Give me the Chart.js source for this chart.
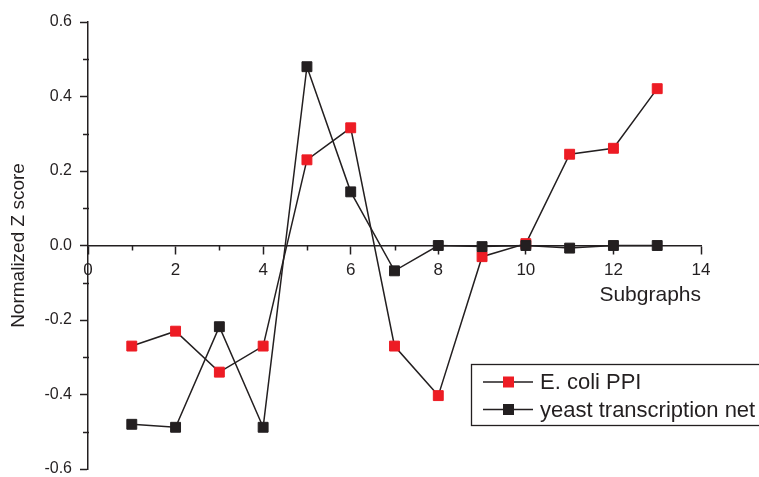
<!DOCTYPE html>
<html>
<head>
<meta charset="utf-8">
<script src="https://cdn.jsdelivr.net/npm/chart.js@4/dist/chart.umd.min.js"></script>
<style>
html,body{margin:0;padding:0;background:#fff;}
#wrap{width:759px;height:477px;position:relative;}
</style>
</head>
<body>
<div id="wrap"><canvas id="c" width="759" height="477"></canvas></div>
<script>
// ---- data ----
const subgraphs = [1,2,3,4,5,6,7,8,9,10,11,12,13];
const ecoliPPI = [-0.27,-0.23,-0.34,-0.27,0.23,0.316,-0.27,-0.403,-0.03,0.005,0.245,0.261,0.421];
const yeastTranscription = [-0.48,-0.488,-0.218,-0.488,0.48,0.144,-0.068,0.0,-0.003,0.0,-0.007,0.0,0.0];
const seriesLabels = ['E. coli PPI','yeast transcription net'];
const xTickMin = 0, xTickMax = 14;
const yTickMin = -0.6, yTickMax = 0.6;

const INK = '#231F20';
const RED = '#ED1C24';
const FONT = '"Liberation Sans", Arial, Helvetica, sans-serif';

function toPoints(xs, ys){ return xs.map((x,i)=>({x:x, y:ys[i]})); }

// minor ticks (short) drawn through the library's scales
const minorTicks = {
  id:'minorTicks',
  beforeDatasetsDraw(chart){
    const ctx = chart.ctx, xs = chart.scales.x, ys = chart.scales.y;
    const axisY = ys.getPixelForValue(0);
    const left = chart.chartArea.left;
    ctx.save();
    ctx.strokeStyle = INK; ctx.lineWidth = 1.5;
    ys.ticks.forEach(t=>{
      if (Math.round(t.value*10) % 2 !== 0){
        const py = Math.round(ys.getPixelForValue(t.value))+0.5;
        ctx.beginPath(); ctx.moveTo(left-5, py); ctx.lineTo(left+1, py); ctx.stroke();
      }
    });
    xs.ticks.forEach(t=>{
      if (Math.round(t.value) % 2 !== 0){
        const px = Math.round(xs.getPixelForValue(t.value))+0.5;
        ctx.beginPath(); ctx.moveTo(px, axisY); ctx.lineTo(px, axisY+5); ctx.stroke();
      }
    });
    ctx.restore();
  }
};

// legend box in the style of the original
const boxLegend = {
  id:'boxLegend',
  afterDraw(chart){
    const ctx = chart.ctx;
    const bx = 471, by = 364, bw = 320, bh = 61;
    ctx.save();
    ctx.fillStyle = '#fff';
    ctx.fillRect(bx, by, bw, bh);
    ctx.strokeStyle = INK; ctx.lineWidth = 1.3;
    ctx.strokeRect(bx+0.5, by+0.5, bw, bh);
    const rows = [382, 409.5];
    chart.data.datasets.forEach((ds,i)=>{
      const cy = rows[i];
      ctx.strokeStyle = INK; ctx.lineWidth = 1.5;
      ctx.beginPath(); ctx.moveTo(483, cy); ctx.lineTo(533, cy); ctx.stroke();
      ctx.fillStyle = ds.pointBackgroundColor;
      ctx.fillRect(503, cy-5.5, 11, 11);
      ctx.fillStyle = INK;
      ctx.font = '22px ' + FONT;
      ctx.textAlign = 'left'; ctx.textBaseline = 'middle';
      ctx.fillText(ds.label, 540, cy+1);
    });
    ctx.restore();
  }
};

new Chart(document.getElementById('c'), {
  type:'line',
  data:{
    datasets:[
      { label: seriesLabels[0], data: toPoints(subgraphs, ecoliPPI),
        borderColor: INK, borderWidth: 1.5, tension: 0,
        pointStyle:'rect', pointRadius: 7, pointHoverRadius: 7,
        pointBackgroundColor: RED, pointBorderColor: RED, pointBorderWidth: 1,
        order: 2 },
      { label: seriesLabels[1], data: toPoints(subgraphs, yeastTranscription),
        borderColor: INK, borderWidth: 1.5, tension: 0,
        pointStyle:'rect', pointRadius: 7, pointHoverRadius: 7,
        pointBackgroundColor: INK, pointBorderColor: INK, pointBorderWidth: 1,
        order: 1 }
    ]
  },
  options:{
    responsive:false,
    animation:false,
    events:[],
    layout:{ padding:{ left:0, right:58, top:22, bottom:5 } },
    plugins:{ legend:{display:false}, tooltip:{enabled:false} },
    scales:{
      x:{
        type:'linear', min:xTickMin, max:xTickMax,
        position:{ y: 0 },
        border:{ display:true, color:INK, width:1.5 },
        grid:{ drawOnChartArea:false, drawTicks:true, tickLength:8, tickWidth:1.5,
               tickColor:(c)=> (c.tick && Math.round(c.tick.value)%2===0) ? INK : 'rgba(0,0,0,0)' },
        ticks:{ stepSize:1, autoSkip:false, maxRotation:0, padding:7, color:INK,
                font:{ family:FONT, size:17 },
                callback:(v)=> (Math.round(v)%2===0) ? String(v) : '' },
        title:{ display:true, text:'Subgraphs', align:'end', color:INK,
                font:{ family:FONT, size:21 }, padding:{ top:0, bottom:-62 } },
        afterFit(s){ s.height = 0; s.paddingLeft = 0; s.paddingRight = 0; }
      },
      y:{
        type:'linear', min:yTickMin, max:yTickMax,
        position:'left',
        border:{ display:true, color:INK, width:1.5 },
        grid:{ drawOnChartArea:false, drawTicks:true, tickLength:8, tickWidth:1.5,
               tickColor:(c)=> (c.tick && Math.round(c.tick.value*10)%2===0) ? INK : 'rgba(0,0,0,0)' },
        ticks:{ stepSize:0.1, autoSkip:false, padding:8, color:INK,
                font:{ family:FONT, size:16 },
                callback:(v)=> (Math.round(v*10)%2===0) ? (Math.round(v*10)/10).toFixed(1) : '' },
        title:{ display:true, text:'Normalized Z score', color:INK,
                font:{ family:FONT, size:19 }, padding:{ top:7, bottom:0 } },
        afterFit(s){ s.width = 88; s.paddingTop = 0; s.paddingBottom = 0; }
      }
    }
  },
  plugins:[minorTicks, boxLegend]
});
</script>
</body>
</html>
